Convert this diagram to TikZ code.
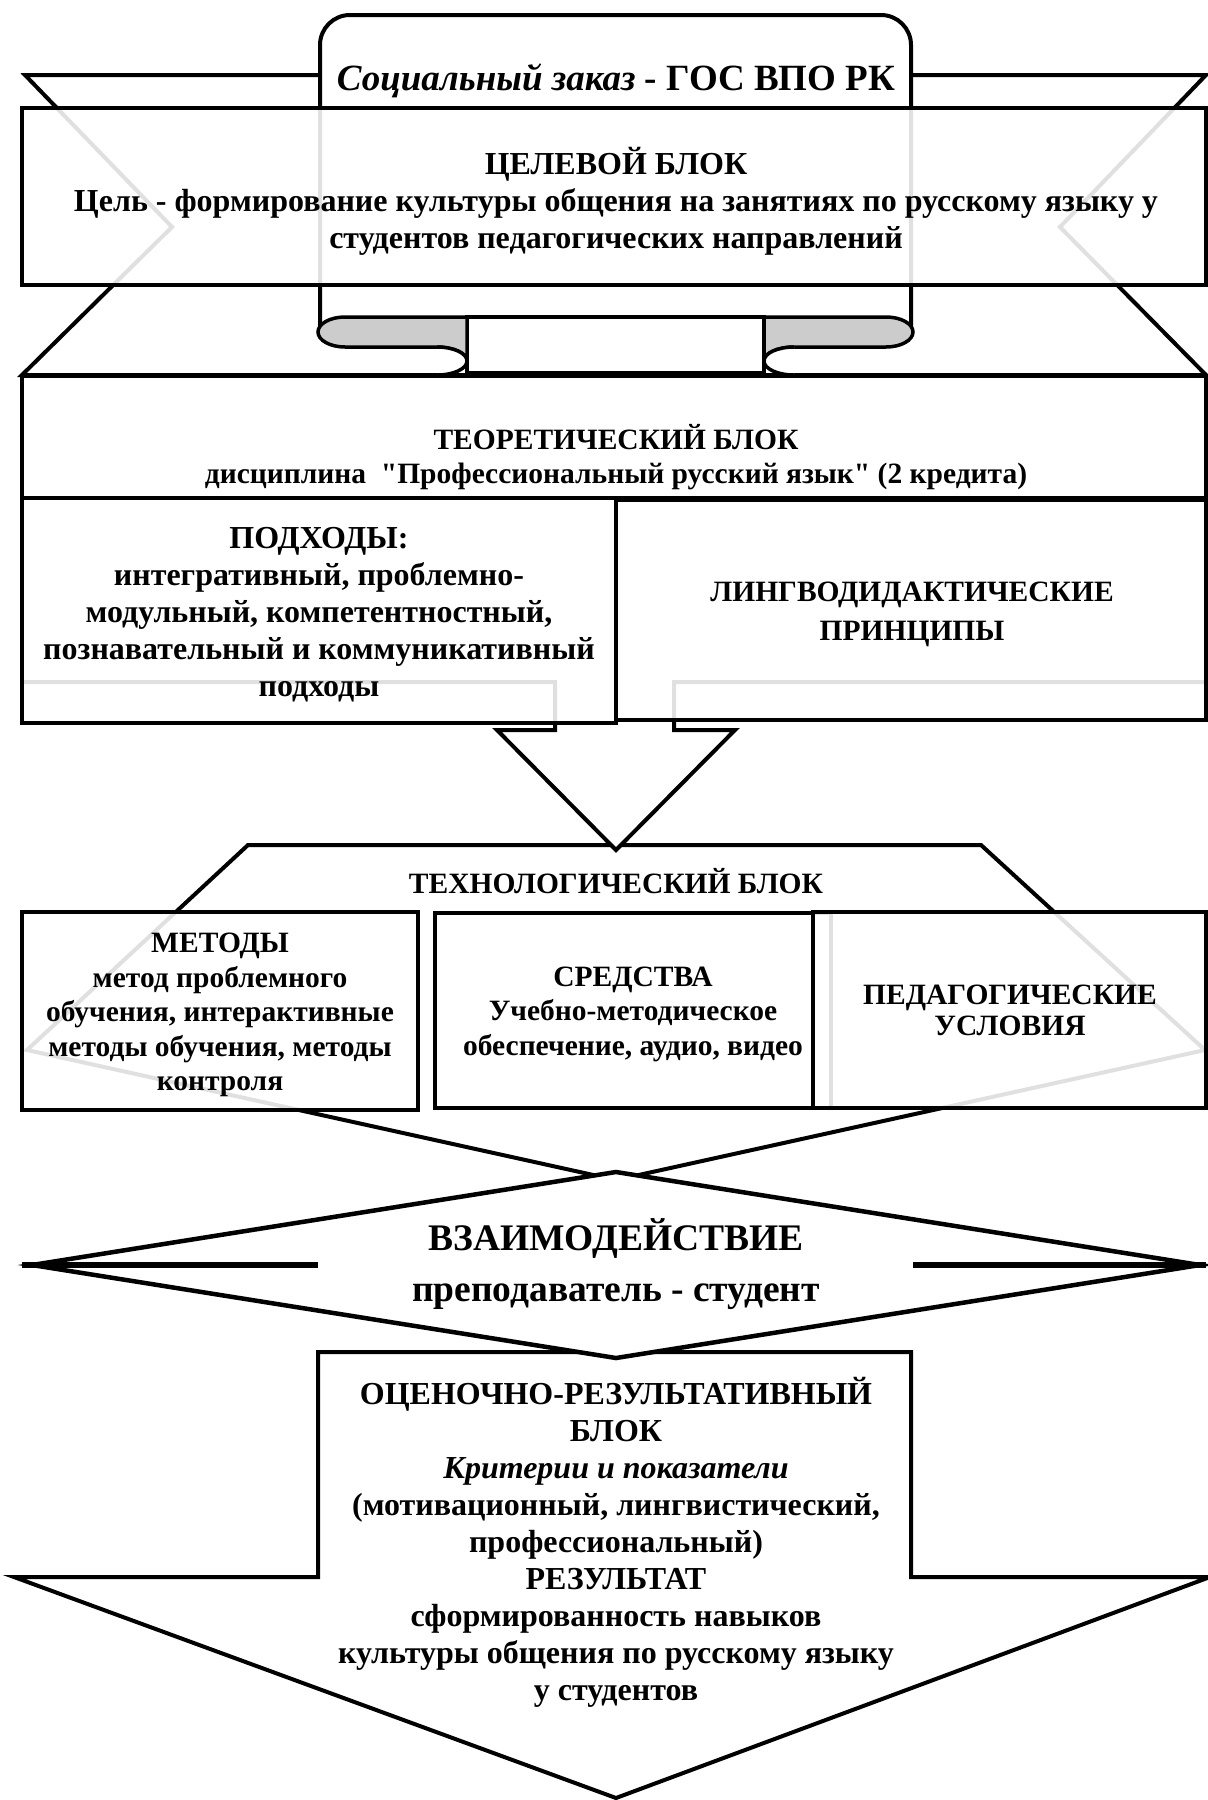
\documentclass[tikz,border=0pt]{standalone}
\usepackage{fontspec}
\setmainfont{Liberation Serif}[Ligatures=TeXOff]
\tikzset{
  panel/.style={draw, line width=4pt, fill=white},
  glass/.style={draw, line width=4pt, fill=white, fill opacity=0.88},
  fold/.style={draw, line width=3.5pt, fill=black!20}
}
\tikzset{
  bigtext/.style={font=\fontsize{32}{37}\selectfont\bfseries, align=center}
}
\tikzset{
  smalltext/.style={font=\fontsize{29.5}{34.5}\selectfont\bfseries, align=center}
}
\newcommand{\crit}[1]{\textit{#1}}

\begin{document}
\begin{tikzpicture}[x=1pt, y=-1pt]
      \useasboundingbox (0,0) rectangle (1208,1800);
      % ribbon: tails, front panel, curls
      \draw[panel] (25,75) -- (1206,75) -- (1060,227) -- (1206,375) -- (22,375) -- (172,227) -- cycle;
      \draw[panel] (320,333) -- (320,45) arc[start angle=180, end angle=270, radius=30]
        -- (881,15) arc[start angle=270, end angle=360, radius=30] -- (911,333);
      \draw[panel, line width=3.5pt] (467,317) rectangle (764,373);
      \draw[fold] (467,317) -- (345,317) arc[start angle=270, end angle=90, x radius=27, y radius=15]
        -- (437,347) arc[start angle=270, end angle=360, x radius=30, y radius=14] -- cycle;
      \draw[panel, line width=3.5pt] (437,347) arc[start angle=270, end angle=450, x radius=30, y radius=14];
      \draw[fold] (764,317) -- (886,317) arc[start angle=-90, end angle=90, x radius=27, y radius=15]
        -- (794,347) arc[start angle=270, end angle=180, x radius=30, y radius=14] -- cycle;
      \draw[panel, line width=3.5pt] (794,347) arc[start angle=270, end angle=90, x radius=30, y radius=14];
      \node[font=\fontsize{37}{44}\selectfont\bfseries] (order) at (616,81) {\crit{Социальный заказ} - ГОС ВПО РК};
      % goal block
      \draw[glass] (22,108) rectangle (1206,285);
      \node[bigtext] (goal) at (616,201) {ЦЕЛЕВОЙ БЛОК\\Цель - формирование культуры общения на занятиях по русскому языку у\\студентов педагогических направлений};
      % technology block and the arrow into it
      \draw[panel] (248,845) -- (981,845) -- (1205,1050) -- (616,1180) -- (27,1050) -- cycle;
      \draw[panel] (22,682) -- (555,682) -- (555,730) -- (497,730) -- (616,850) -- (735,730) -- (674,730) -- (674,682) -- (1206,682);
      % theory block
      \draw[panel] (22,376) rectangle (1206,498);
      \draw[glass] (22,498) rectangle (616,723);
      \draw[glass] (616,500) rectangle (1206,720);
      \node[smalltext] (theory) at (616,457) {ТЕОРЕТИЧЕСКИЙ БЛОК\\дисциплина\ \ "Профессиональный русский язык" (2 кредита)};
      \node[bigtext] (approaches) at (319,615) {ПОДХОДЫ:\\интегративный, проблемно-\\модульный, компетентностный,\\познавательный и коммуникативный\\подходы};
      \node[smalltext, font=\fontsize{29.5}{39}\selectfont\bfseries] (principles) at (912,614) {ЛИНГВОДИДАКТИЧЕСКИЕ\\ПРИНЦИПЫ};
      \node[smalltext] (techhead) at (616,881) {ТЕХНОЛОГИЧЕСКИЙ БЛОК};
      \draw[glass] (22,912) rectangle (418,1110);
      \draw[glass] (435,913) rectangle (831,1108);
      \draw[glass] (813,912) rectangle (1206,1108);
      \node[smalltext] (methods) at (220,1015) {МЕТОДЫ\\метод проблемного\\обучения, интерактивные\\методы обучения, методы\\контроля};
      \node[smalltext] (means) at (633,1014) {СРЕДСТВА\\Учебно-методическое\\обеспечение, аудио, видео};
      \node[smalltext, font=\fontsize{29.5}{31}\selectfont\bfseries] (conditions) at (1010,1010) {ПЕДАГОГИЧЕСКИЕ\\УСЛОВИЯ};
      % assessment arrow
      \draw[panel] (318,1352) -- (911,1352) -- (911,1577) -- (1210,1577) -- (616,1798) -- (14,1577) -- (318,1577) -- cycle;
      \node[bigtext] (assess) at (616,1542) {ОЦЕНОЧНО-РЕЗУЛЬТАТИВНЫЙ\\БЛОК\\\crit{Критерии и показатели}\\(мотивационный, лингвистический,\\профессиональный)\\РЕЗУЛЬТАТ\\сформированность навыков\\культуры общения по русскому языку\\у студентов};
      % interaction
      \draw[panel, line width=4.5pt] (616,1172) -- (1200,1265) -- (616,1358) -- (32,1265) -- cycle;
      \draw[line width=6pt] (22,1265) -- (318,1265);
      \draw[line width=6pt] (913,1265) -- (1206,1265);
      \node[font=\fontsize{37.5}{42}\selectfont\bfseries] (interact) at (616,1239) {ВЗАИМОДЕЙСТВИЕ};
      \node[font=\fontsize{37.5}{42}\selectfont\bfseries] (pair) at (616,1297) {преподаватель - студент};
\end{tikzpicture}
\end{document}
